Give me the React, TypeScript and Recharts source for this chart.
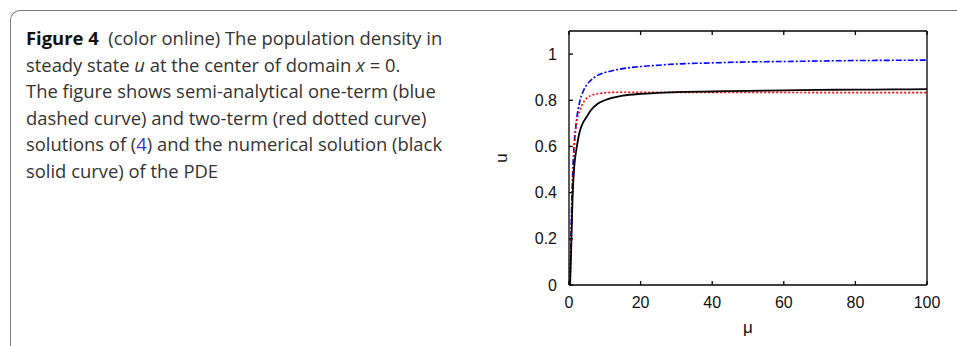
import { LineChart, Line, XAxis, YAxis } from "recharts";

// mu values (x) shared by all three curves
const mu = [0.3, 0.6, 1, 1.5, 2, 3, 4, 5, 6, 8, 10, 12, 15, 20, 25, 30, 40, 50, 60, 70, 80, 90, 100];
// numerical solution of the PDE (black solid)
const numerical = [0, 0.15, 0.38, 0.52, 0.58, 0.665, 0.705, 0.73, 0.755, 0.785, 0.8, 0.81, 0.82, 0.828, 0.832, 0.835, 0.838, 0.841, 0.843, 0.845, 0.846, 0.847, 0.848];
// semi-analytical one-term (blue dashed)
const oneTerm = [0, 0.25, 0.47, 0.62, 0.7, 0.795, 0.84, 0.868, 0.885, 0.908, 0.92, 0.928, 0.937, 0.946, 0.952, 0.957, 0.962, 0.966, 0.968, 0.97, 0.972, 0.973, 0.974];
// semi-analytical two-term (red dotted)
const twoTerm = [0, 0.2, 0.42, 0.6, 0.69, 0.755, 0.79, 0.81, 0.82, 0.828, 0.832, 0.834, 0.835, 0.835, 0.835, 0.834, 0.834, 0.834, 0.834, 0.833, 0.833, 0.833, 0.833];

const xTicks = [0, 20, 40, 60, 80, 100];
const yTicks = [0, 0.2, 0.4, 0.6, 0.8, 1];

const data = mu.map((m, i) => ({
  mu: m,
  numerical: numerical[i],
  oneTerm: oneTerm[i],
  twoTerm: twoTerm[i],
}));

const tickFont = { fontFamily: "Liberation Sans, Arial, sans-serif", fontSize: 16, fill: "#111" };
const noLabel = () => <g />;

export default function App() {
  return (
    <div style={{ position: "relative", width: 957, height: 346, background: "#fff", overflow: "hidden" }}>
      <style>{`body{margin:0}`}</style>
      <div
        style={{
          position: "absolute",
          left: 10,
          top: 10,
          width: 960,
          height: 400,
          borderLeft: "1.5px solid #7a7a7a",
          borderTop: "1.5px solid #7a7a7a",
          borderTopLeftRadius: 10,
        }}
      />
      <div
        style={{
          position: "absolute",
          left: 26,
          top: 25,
          fontFamily: "Open Sans, sans-serif",
          fontSize: 18.4,
          lineHeight: "26.6px",
          color: "#333",
          whiteSpace: "nowrap",
        }}
      >
        <b style={{ color: "#111" }}>Figure 4</b>&nbsp;&nbsp;(color online) The population density in
        <br />
        steady state <i>u</i> at the center of domain <i>x</i> = 0.
        <br />
        The figure shows semi-analytical one-term (blue
        <br />
        dashed curve) and two-term (red dotted curve)
        <br />
        solutions of (<span style={{ color: "#3434d6" }}>4</span>) and the numerical solution (black
        <br />
        solid curve) of the PDE
      </div>
      <div style={{ position: "absolute", left: 480, top: 0 }}>
        <LineChart width={477} height={346} data={data} margin={{ top: 30, right: 29, bottom: 11, left: 10 }}>
          <XAxis
            xAxisId="bottom"
            dataKey="mu"
            type="number"
            domain={[0, 100]}
            ticks={xTicks}
            tickSize={-4}
            tickMargin={16}
            height={50}
            stroke="#000"
            strokeWidth={1.3}
            tick={tickFont}
            label={{ value: "μ", position: "insideBottom", offset: 2, style: { ...tickFont, fontSize: 17 } }}
          />
          <XAxis
            xAxisId="top"
            orientation="top"
            dataKey="mu"
            type="number"
            domain={[0, 100]}
            ticks={xTicks}
            tickSize={-4}
            height={1}
            stroke="#000"
            strokeWidth={1.3}
            tick={noLabel}
          />
          <YAxis
            yAxisId="left"
            type="number"
            domain={[0, 1.1]}
            ticks={yTicks}
            tickSize={-4}
            tickMargin={16}
            width={79}
            stroke="#000"
            strokeWidth={1.3}
            tick={tickFont}
            label={{
              value: "u",
              angle: -90,
              position: "insideLeft",
              offset: 11,
              style: { ...tickFont, fontSize: 17, textAnchor: "middle" },
            }}
          />
          <YAxis
            yAxisId="right"
            orientation="right"
            type="number"
            domain={[0, 1.1]}
            ticks={yTicks}
            tickSize={-4}
            width={1}
            stroke="#000"
            strokeWidth={1.3}
            tick={noLabel}
          />
          <Line
            xAxisId="bottom"
            yAxisId="left"
            type="monotone"
            dataKey="oneTerm"
            stroke="#0000ff"
            strokeWidth={1.6}
            strokeDasharray="6 2 2 2"
            dot={false}
            isAnimationActive={false}
          />
          <Line
            xAxisId="bottom"
            yAxisId="left"
            type="monotone"
            dataKey="twoTerm"
            stroke="#ff0000"
            strokeWidth={1.6}
            strokeDasharray="2 2"
            dot={false}
            isAnimationActive={false}
          />
          <Line
            xAxisId="bottom"
            yAxisId="left"
            type="monotone"
            dataKey="numerical"
            stroke="#000"
            strokeWidth={1.8}
            dot={false}
            isAnimationActive={false}
          />
        </LineChart>
      </div>
    </div>
  );
}
